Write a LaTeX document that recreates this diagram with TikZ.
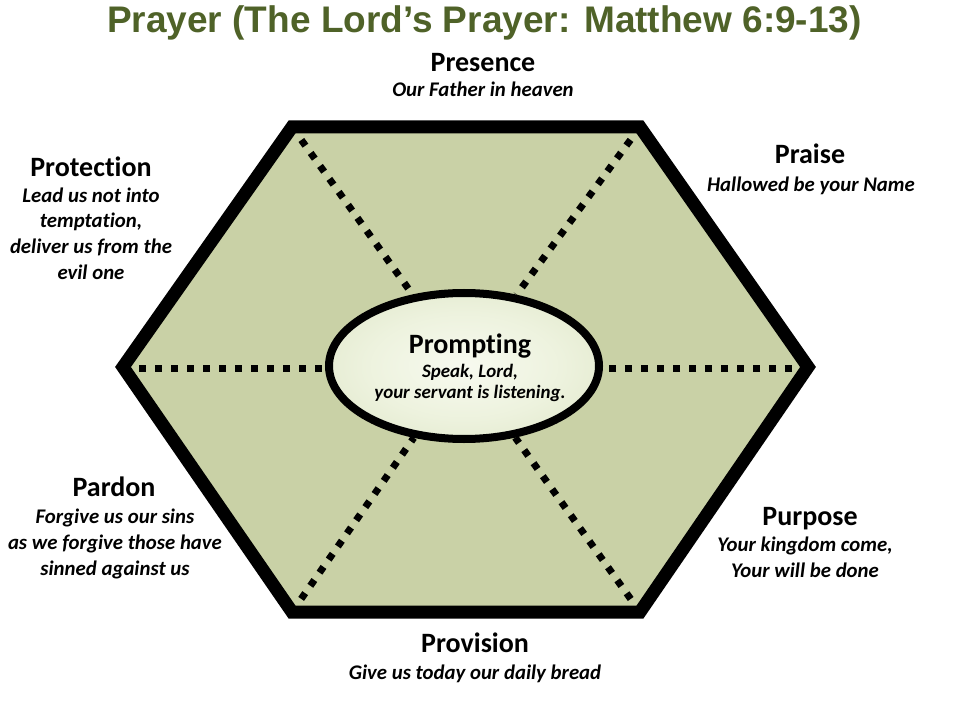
\documentclass[tikz,border=0pt]{standalone}
\usepackage{fontspec}
\setmainfont{Carlito}[Ligatures=NoCommon]
\newfontfamily\titlefont{Liberation Sans}
\usetikzlibrary{shapes.geometric}
\definecolor{hexfill}{RGB}{201,209,166}
\definecolor{titlegreen}{RGB}{79,98,40}
\pgfdeclareradialshading{glow}{\pgfpoint{0bp}{0bp}}{rgb(0bp)=(0.97,0.98,0.94); rgb(18bp)=(0.93,0.95,0.87); rgb(36bp)=(0.87,0.90,0.78); rgb(50bp)=(0.91,0.93,0.84)}
\tikzset{
  head/.style={font=\bfseries\fontsize{21}{25}\selectfont, anchor=base, inner sep=0pt},
  body/.style={font=\bfseries\itshape\fontsize{15.6}{19}\selectfont, anchor=base, inner sep=0pt},
  smallbody/.style={font=\bfseries\itshape\fontsize{14.2}{17}\selectfont, anchor=base, inner sep=0pt},
  hexline/.style={line width=9.75pt, line join=miter, draw=black},
  dotline/.style={line width=5.25pt, dash pattern=on 5.25pt off 6.75pt, draw=black},
}
\begin{document}
\begin{tikzpicture}[x=0.75pt, y=-0.75pt]
\useasboundingbox (0,0) rectangle (960,720);
\fill[white] (0,0) rectangle (960,720);
% hexagon corners
\coordinate (tl) at (292,127);
\coordinate (tr) at (640,127);
\coordinate (r) at (808,367);
\coordinate (br) at (640,612);
\coordinate (bl) at (292,612);
\coordinate (l) at (123,367);
\coordinate (c) at (464,366);
\fill[hexfill] (tl) -- (tr) -- (r) -- (br) -- (bl) -- (l) -- cycle;
% center ellipse
\node[shape=ellipse, draw=black, line width=6pt, shade, shading=glow, inner sep=0pt,
      minimum width=202.5pt, minimum height=109.5pt] (prompt) at (c) {};
% dotted spokes
\draw[dotline] (tl) -- (prompt);
\draw[dotline] (tr) -- (prompt);
\draw[dotline] (br) -- (prompt);
\draw[dotline] (bl) -- (prompt);
\draw[dotline] ([yshift=-0.75pt]l) -- ([yshift=-0.75pt]l -| prompt.west);
\draw[dotline] ([yshift=-0.75pt]r) -- ([yshift=-0.75pt]r -| prompt.east);
\draw[hexline] (tl) -- (tr) -- (r) -- (br) -- (bl) -- (l) -- cycle;
% title
\node[anchor=base, inner sep=0pt, text=titlegreen, font=\titlefont\bfseries\fontsize{27.75}{32}\selectfont] (title) at (484.5,33) {Prayer (The Lord’s Prayer: Matthew 6:9-13)};
% Prompting
\node[head] (prh) at (470,353) {Prompting};
\node[smallbody] (pr1) at (470,377) {Speak, Lord,};
\node[smallbody] (pr2) at (470,398) {your servant is listening.};
% Presence
\node[head] (peh) at (483,72) {Presence};
\node[body] (pe1) at (483,97) {Our Father in heaven};
% Praise
\node[head] (pah) at (810,164) {Praise};
\node[body] (pa1) at (811,192) {Hallowed be your Name};
% Protection
\node[head] (pth) at (91,177) {Protection};
\node[body] (pt1) at (91,203) {Lead us not into};
\node[body] (pt2) at (91,228) {temptation,};
\node[body] (pt3) at (91,254) {deliver us from the};
\node[body] (pt4) at (91,280) {evil one};
% Pardon
\node[head] (pdh) at (114,496) {Pardon};
\node[body] (pd1) at (115,523) {Forgive us our sins};
\node[body] (pd2) at (115,549) {as we forgive those have};
\node[body] (pd3) at (115,575) {sinned against us};
% Purpose
\node[head] (puh) at (810,525) {Purpose};
\node[body] (pu1) at (805,551) {Your kingdom come,};
\node[body] (pu2) at (805,577) {Your will be done};
% Provision
\node[head] (pvh) at (475,652) {Provision};
\node[body] (pv1) at (475,679) {Give us today our daily bread};
\end{tikzpicture}
\end{document}
